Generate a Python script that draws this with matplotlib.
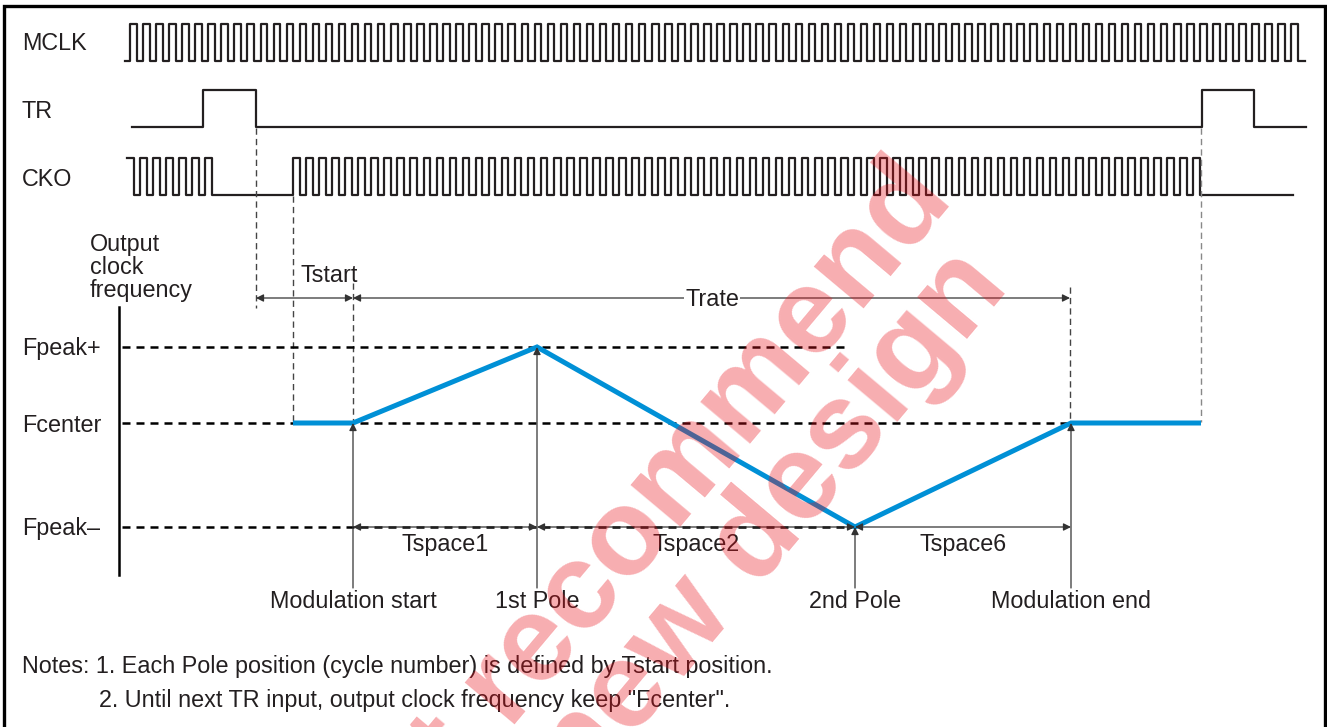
import numpy as np
import matplotlib.pyplot as plt

plt.rcParams['font.family'] = ['Liberation Sans', 'DejaVu Sans']

W, H = 1327, 727
INK = '#231f20'
BLUE = '#0090d6'
FS = 16.8

# --- waveform data (pixel units of the drawing) ---
mclk_start, mclk_end, mclk_first_rise = 125, 1305, 130
mclk_period, mclk_cycles = 13.05, 90
mclk_lo, mclk_hi = 61, 24

tr_x = [132, 203, 203, 256, 256, 1202, 1202, 1254, 1254, 1306]
tr_y = [127, 127, 90, 90, 127, 127, 90, 90, 127, 127]

cko_lo, cko_hi = 195, 158
cko_pre_start, cko_pre_cycles = 127, 7
cko_start, cko_cycles, cko_end = 293, 70, 1293
cko_period = 13.05

# frequency profile
f_levels = {'Fpeak+': 347, 'Fcenter': 423, 'Fpeak\u2013': 527}
freq_x = [293, 353, 537, 855, 1071, 1201]
freq_y = [423, 423, 347, 527, 423, 423]
freq_dash_end = {'Fpeak+': 850, 'Fcenter': 1070, 'Fpeak\u2013': 852}

event_x = [353, 537, 855, 1071]
event_names = ['Modulation start', '1st Pole', '2nd Pole', 'Modulation end']
event_y = [423, 347, 527, 423]

span_names = ['Tspace1', 'Tspace2', 'Tspace6']

notes = ['Notes: 1. Each Pole position (cycle number) is defined by Tstart position.',
         '2. Until next TR input, output clock frequency keep "Fcenter".']


def clock(x0, first_rise, period, n, x1, lo, hi, start_high=False):
    xs, ys = [x0], [hi if start_high else lo]
    for k in range(n):
        r = first_rise + k * period
        f = r + period / 2
        if not (start_high and k == 0):
            xs += [r, r]
            ys += [lo, hi]
        xs += [f, f]
        ys += [hi, lo]
    xs.append(x1)
    ys.append(lo)
    return xs, ys


fig = plt.figure(figsize=(W / 100, H / 100), dpi=100)
ax = fig.add_axes([0, 0, 1, 1])
ax.set_xlim(0, W)
ax.set_ylim(H, 0)
ax.axis('off')

# frame
ax.plot([4, 4, 1325, 1325], [H + 5, 6, 6, H + 5], color='black', lw=2.4,
        solid_joinstyle='miter')

# MCLK
x, y = clock(mclk_start, mclk_first_rise, mclk_period, mclk_cycles, mclk_end,
             mclk_lo, mclk_hi)
ax.plot(x, y, color=INK, lw=1.6)

# TR
ax.plot(tr_x, tr_y, color=INK, lw=1.6)

# CKO
x1, y1 = clock(cko_pre_start, cko_pre_start, cko_period, cko_pre_cycles,
               cko_start, cko_lo, cko_hi, start_high=True)
x2, y2 = clock(cko_start, cko_start, cko_period, cko_cycles, cko_end,
               cko_lo, cko_hi)
ax.plot(x1 + x2[1:], y1 + y2[1:], color=INK, lw=1.6)

# vertical guide dashes
vdash = dict(color='#444444', lw=1.0, ls=(0, (4.5, 3)))
ax.plot([256, 256], [128, 308], **vdash)
ax.plot([293, 293], [196, 423], **vdash)
ax.plot([353, 353], [283, 423], **vdash)
ax.plot([1070, 1070], [287, 423], **vdash)
ax.plot([1201, 1201], [128, 422], color='#888888', lw=1.0, ls=(0, (4.5, 3)))

# horizontal level lines
for name, yv in f_levels.items():
    ax.plot([122, freq_dash_end[name]], [yv, yv], color='black', lw=1.8,
            ls=(0, (3.2, 2.4)))
    ax.text(22, yv + 2, name, ha='left', va='center', fontsize=FS, color=INK)

# frequency axis
ax.plot([119, 119], [307, 575], color='black', lw=1.8)
ax.text(90, 233, 'Output\nclock\nfrequency', ha='left', va='top', fontsize=FS,
        color=INK, linespacing=1.0)

# signal names
for name, yv in zip(['MCLK', 'TR', 'CKO'], [44, 111, 179]):
    ax.text(22, yv, name, ha='left', va='center', fontsize=FS, color=INK)


def harrow(xa, xb, yv, style='<|-|>'):
    ax.annotate('', xy=(xb, yv), xytext=(xa, yv),
                arrowprops=dict(arrowstyle=style, color='#333333', lw=0.9,
                                mutation_scale=11, shrinkA=0, shrinkB=0))


# Tstart / Trate
harrow(256, 353, 298)
harrow(353, 1070, 298)
ax.text(329, 276, 'Tstart', ha='center', va='center', fontsize=FS, color=INK)
ax.text(712, 299, 'Trate', ha='center', va='center', fontsize=FS, color=INK,
        bbox=dict(facecolor='white', edgecolor='none', pad=1))

# event arrows and labels
for xv, yv, name in zip(event_x, event_y, event_names):
    ax.annotate('', xy=(xv, yv), xytext=(xv, 588),
                arrowprops=dict(arrowstyle='-|>', color='#333333', lw=0.9,
                                mutation_scale=11, shrinkA=0, shrinkB=0))
    ax.text(xv, 602, name, ha='center', va='center', fontsize=FS, color=INK)

# Tspace spans
yp = f_levels['Fpeak\u2013']
for i, name in enumerate(span_names):
    harrow(event_x[i], event_x[i + 1], yp)
    ax.text((event_x[i] + event_x[i + 1]) / 2, 545, name, ha='center',
            va='center', fontsize=FS, color=INK)

# frequency curve
ax.plot(freq_x, freq_y, color=BLUE, lw=3.6, solid_joinstyle='miter',
        solid_capstyle='butt')

# notes
ax.text(22, 667, notes[0], ha='left', va='center', fontsize=FS, color=INK)
ax.text(99, 701, notes[1], ha='left', va='center', fontsize=FS, color=INK)

# watermark
wm = dict(rotation=50, rotation_mode='anchor', ha='right', va='baseline',
          fontsize=88, fontweight='bold', color='#ea0f1a', alpha=0.34,
          family=['Liberation Sans', 'DejaVu Sans'])
ax.text(955, 200, 'Not recommend', **wm)
ax.text(1010, 288, 'for new design', **wm)

fig.savefig('out.png', dpi=100)
